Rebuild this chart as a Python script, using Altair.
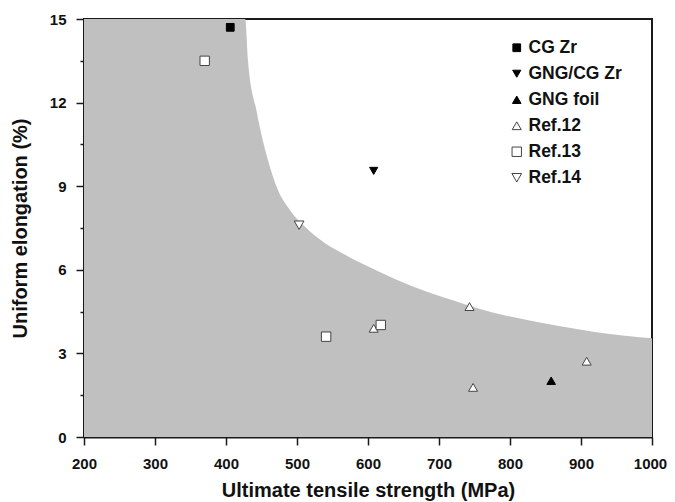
import altair as alt
import pandas as pd

# --- data ---
series = ["CG Zr", "GNG/CG Zr", "GNG foil",
          "Ref.12", "Ref.12", "Ref.12", "Ref.12",
          "Ref.13", "Ref.13", "Ref.13",
          "Ref.14"]
uts = [406, 608, 858,
       608, 743, 748, 908,
       370, 541, 618,
       503]
elong = [14.7, 9.55, 2.02,
         3.9, 4.68, 1.78, 2.72,
         13.5, 3.6, 4.02,
         7.6]

# upper boundary of the shaded (grey) region
boundary_uts = [200, 427, 431, 443, 459, 473, 490, 511, 539, 567, 590,
                637, 684, 730, 777, 824, 871, 917, 1000]
boundary_el = [15, 15, 13.5, 11.7, 9.95, 8.87, 8.15, 7.55, 6.96, 6.55, 6.24,
               5.68, 5.2, 4.82, 4.46, 4.2, 3.97, 3.78, 3.54]

order = ["CG Zr", "GNG/CG Zr", "GNG foil", "Ref.12", "Ref.13", "Ref.14"]
shapes = ["square", "triangle-down", "triangle-up", "triangle-up", "square", "triangle-down"]
fills = ["#000000", "#000000", "#000000", "#ffffff", "#ffffff", "#ffffff"]
strokes = ["#000000", "#000000", "#000000", "#444444", "#444444", "#444444"]
sizes = [60, 95, 95, 95, 55, 95]

x_ticks = list(range(200, 1001, 50))
y_ticks = [i * 1.5 for i in range(11)]

pts = pd.DataFrame({"series": series, "uts": uts, "elong": elong})
bnd = pd.DataFrame({"uts": boundary_uts, "elong": boundary_el})

xscale = alt.Scale(domain=[200, 1000], nice=False, zero=False)
yscale = alt.Scale(domain=[0, 15], nice=False)

xaxis = alt.Axis(
    values=x_ticks, format="d", labelFlush=False,
    labelExpr="datum.value % 100 === 0 ? datum.label : ''",
    tickSize={"condition": {"test": "datum.value % 100 === 0", "value": 8}, "value": 4},
    labelOffset={"condition": {"test": "datum.value === 1000", "value": -2}, "value": 0},
    labelPadding=11, titlePadding=9,
)
yaxis = alt.Axis(
    values=y_ticks, format="d", labelFlush=False,
    labelExpr="datum.value % 3 === 0 ? datum.label : ''",
    tickSize={"condition": {"test": "datum.value % 3 === 0", "value": 8}, "value": 4},
    labelPadding=10, titlePadding=19,
)

area = alt.Chart(bnd).mark_area(color="#c0c0c0", interpolate="monotone").encode(
    x=alt.X("uts:Q", scale=xscale, axis=xaxis, title="Ultimate tensile strength (MPa)"),
    y=alt.Y("elong:Q", scale=yscale, axis=yaxis, title="Uniform elongation (%)"),
)

points = alt.Chart(pts).mark_point(filled=True, opacity=1, strokeWidth=1).encode(
    x=alt.X("uts:Q", scale=xscale),
    y=alt.Y("elong:Q", scale=yscale),
    shape=alt.Shape("series:N", scale=alt.Scale(domain=order, range=shapes), title=None),
    fill=alt.Fill("series:N", scale=alt.Scale(domain=order, range=fills), title=None),
    stroke=alt.Stroke("series:N", scale=alt.Scale(domain=order, range=strokes), title=None),
    size=alt.Size("series:N", scale=alt.Scale(domain=order, range=sizes), title=None),
)

chart = (
    alt.layer(area, points)
    .properties(
        width=568, height=418,
        padding={"left": 76, "top": 11, "right": 15, "bottom": 66},
        autosize=alt.AutoSizeParams(type="none"),
    )
    .configure_view(stroke="#1a1a1a", strokeWidth=2)
    .configure_axis(
        domainColor="#1a1a1a", domainWidth=2,
        tickColor="#1a1a1a", tickWidth=1.5,
        grid=False,
        labelFont="Liberation Sans", labelFontSize=15, labelFontWeight="bold", labelColor="#111111",
        titleFont="Liberation Sans", titleFontSize=20, titleFontWeight="bold", titleColor="#111111",
    )
    .configure_legend(
        orient="none", legendX=424, legendY=20, padding=0,
        labelFont="Liberation Sans", labelFontSize=17.5, labelFontWeight="bold", labelColor="#111111",
        labelOffset=3, rowPadding=7, symbolStrokeWidth=1,
    )
)

chart.save("out.html", embed_options={"renderer": "svg", "actions": False})
